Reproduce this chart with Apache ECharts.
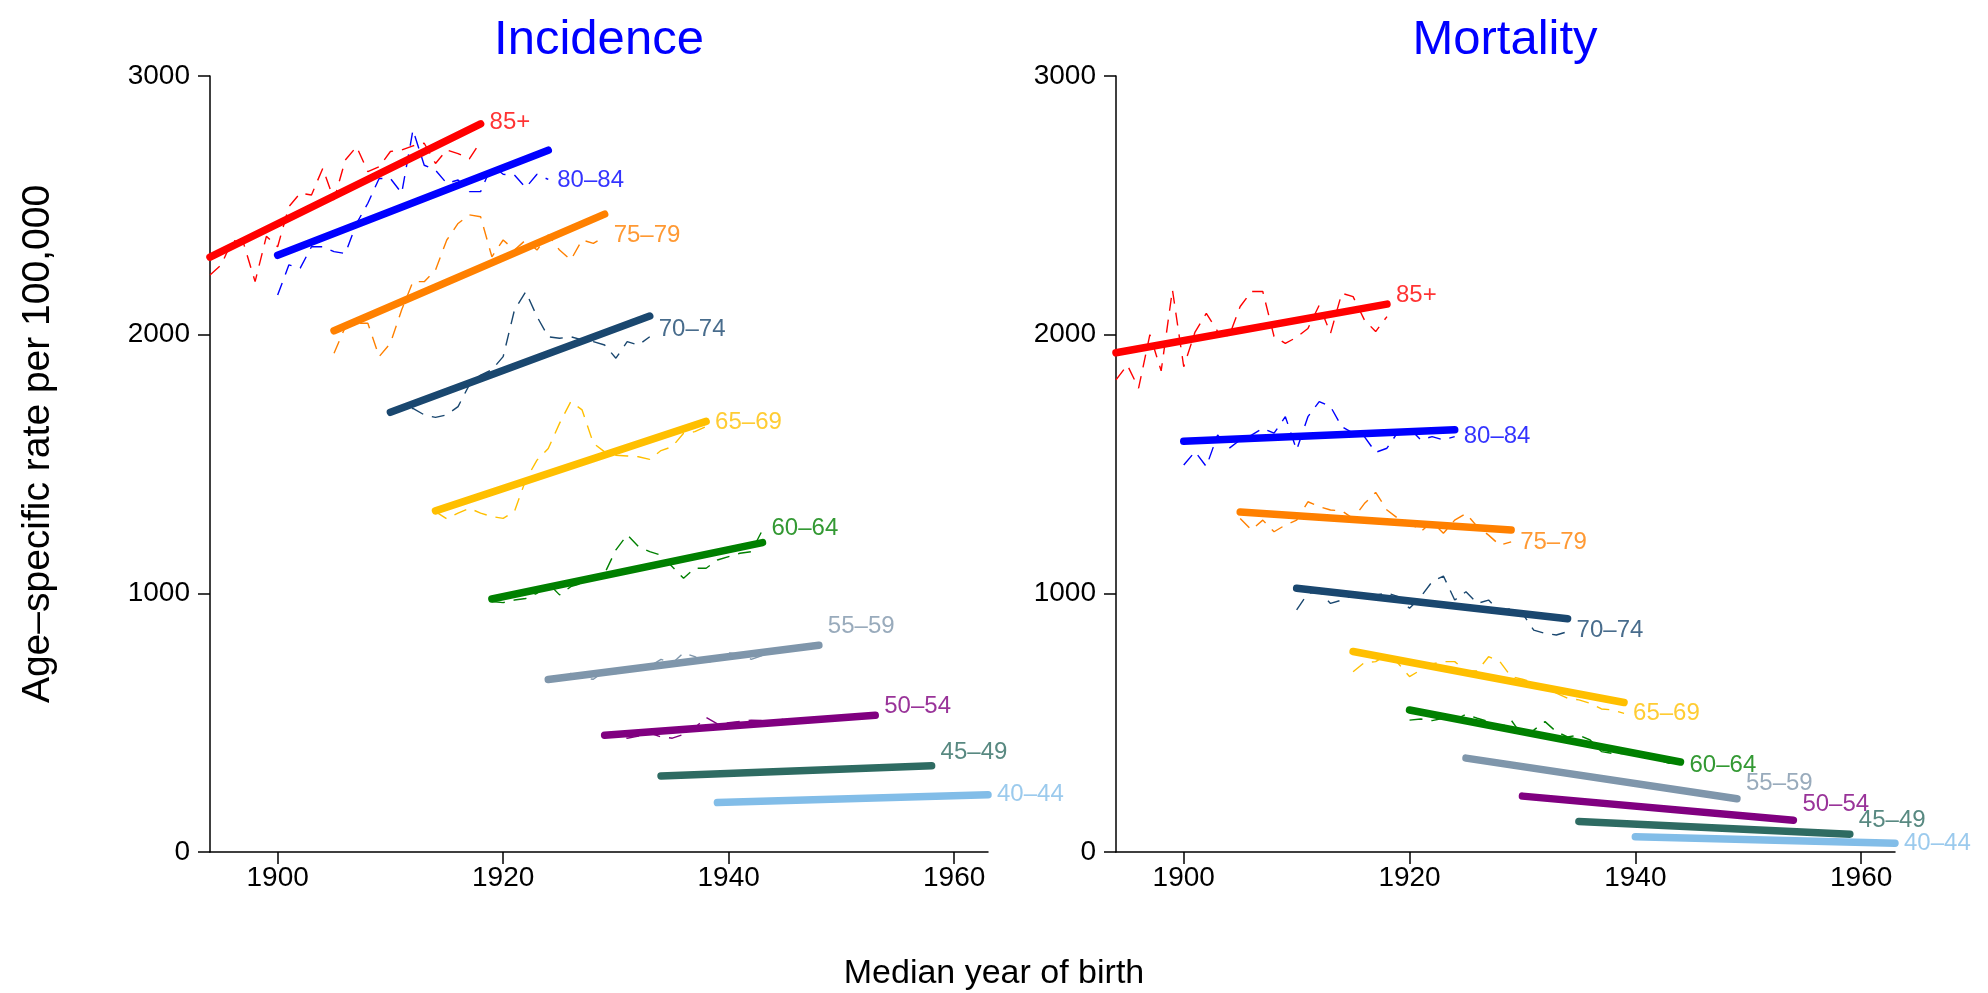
<!DOCTYPE html>
<html><head><meta charset="utf-8">
<script src="https://cdn.jsdelivr.net/npm/echarts@6/dist/echarts.min.js"></script>
<style>html,body{margin:0;padding:0;background:#fff}#c{width:1988px;height:993px}</style>
</head><body><div id="c"></div>
<script>
// ---------- data ----------
const groups = ['85+', '80–84', '75–79', '70–74', '65–69', '60–64', '55–59', '50–54', '45–49', '40–44'];
const xTicks = [1900, 1920, 1940, 1960];
const yTicks = [0, 1000, 2000, 3000];

// Incidence: fitted trend (start/end year and value)
const incTrendStart = [1894, 1900, 1905, 1910, 1914, 1919, 1924, 1929, 1934, 1939];
const incTrendEnd   = [1918, 1924, 1929, 1933, 1938, 1943, 1948, 1953, 1958, 1963];
const incTrendFrom  = [2300, 2307, 2015, 1700, 1319, 978, 667, 451, 294, 191];
const incTrendTo    = [2815, 2713, 2466, 2072, 1665, 1196, 799, 529, 333, 221];
const incLabelAt    = [2819, 2598, 2382, 2020, 1662, 1250, 873, 564, 387, 221];

// Incidence: observed yearly rates (first year = trend start year)
const inc85 = [2231, 2270, 2366, 2350, 2205, 2380, 2340, 2495, 2547, 2540, 2643, 2521, 2675, 2727, 2630, 2649, 2708, 2714, 2730, 2740, 2662, 2714, 2700, 2680, 2746];
const inc80 = [2153, 2270, 2257, 2340, 2340, 2321, 2314, 2430, 2508, 2604, 2604, 2547, 2791, 2655, 2636, 2585, 2598, 2553, 2553, 2655, 2620, 2617, 2568, 2620, 2600];
const inc75 = [1928, 2030, 2044, 2044, 1915, 1967, 2096, 2205, 2205, 2250, 2366, 2430, 2463, 2456, 2301, 2366, 2327, 2366, 2327, 2386, 2327, 2289, 2366, 2353, 2379];
const inc70 = [1696, 1710, 1715, 1690, 1680, 1690, 1722, 1806, 1844, 1864, 1915, 2095, 2166, 2070, 1992, 1986, 1992, 1980, 1973, 1960, 1909, 1973, 1960, 1992];
const inc65 = [1316, 1288, 1310, 1329, 1310, 1297, 1290, 1316, 1438, 1515, 1560, 1657, 1741, 1709, 1580, 1547, 1534, 1531, 1528, 1518, 1552, 1567, 1619, 1625, 1645];
const inc60 = [968, 964, 974, 980, 1000, 1039, 994, 1026, 1039, 1058, 1077, 1168, 1226, 1181, 1161, 1148, 1103, 1058, 1097, 1097, 1129, 1142, 1155, 1161, 1245];
const inc55 = [670, 680, 690, 672, 668, 700, 690, 705, 720, 718, 745, 730, 770, 755, 730, 745, 770, 765, 745, 760, 780, 775, 790, 810, 800];
const inc50 = [455, 450, 440, 448, 460, 445, 440, 455, 480, 520, 495, 500, 505, 510, 508, 505, 515, 512, 510, 518, 520, 518, 522, 525, 528];
const inc45 = [292, 296, 298, 300, 302, 305, 304, 306, 310, 309, 312, 313, 315, 318, 316, 320, 322, 321, 323, 326, 328, 327, 330, 332, 334];
const inc40 = [180, 192, 194, 195, 196, 198, 199, 200, 201, 203, 204, 205, 206, 208, 209, 210, 212, 213, 214, 215, 216, 218, 219, 220, 222];

// Mortality: fitted trend
const morTrendStart = [1894, 1900, 1905, 1910, 1915, 1920, 1925, 1930, 1935, 1940];
const morTrendEnd   = [1918, 1924, 1929, 1934, 1939, 1944, 1949, 1954, 1959, 1963];
const morTrendFrom  = [1930, 1588, 1314, 1020, 775, 549, 363, 216, 118, 59];
const morTrendTo    = [2118, 1632, 1245, 902, 578, 348, 206, 123, 69, 34];
const morLabelAt    = [2152, 1608, 1196, 858, 534, 333, 265, 186, 123, 34];

// Mortality: observed yearly rates
const mor85 = [1825, 1883, 1793, 2000, 1860, 2173, 1876, 2010, 2082, 2013, 1993, 2109, 2167, 2167, 1993, 1966, 1990, 2024, 2114, 2005, 2160, 2147, 2057, 2012, 2070];
const mor80 = [1496, 1548, 1490, 1612, 1560, 1593, 1612, 1638, 1619, 1683, 1554, 1683, 1741, 1722, 1644, 1619, 1606, 1545, 1561, 1625, 1638, 1593, 1606, 1593, 1606];
const mor75 = [1289, 1245, 1283, 1238, 1264, 1283, 1354, 1335, 1322, 1319, 1289, 1347, 1390, 1322, 1289, 1277, 1238, 1277, 1232, 1283, 1309, 1258, 1225, 1186, 1199];
const mor70 = [936, 1000, 1006, 961, 974, 993, 1000, 993, 1002, 987, 942, 987, 1045, 1067, 974, 1006, 961, 974, 929, 942, 923, 858, 845, 839, 852];
const mor65 = [697, 732, 736, 762, 729, 678, 704, 727, 736, 736, 700, 700, 755, 736, 678, 668, 655, 627, 614, 594, 588, 575, 553, 549, 536];
const mor60 = [510, 514, 508, 517, 510, 532, 517, 504, 478, 510, 449, 471, 504, 465, 445, 452, 433, 388, 381, 381, 375, 369, 356, 343, 343];
const mor55 = [360, 356, 351, 346, 338, 333, 326, 321, 316, 307, 301, 295, 290, 283, 276, 269, 263, 256, 249, 243, 236, 229, 222, 215, 208];
const mor50 = [214, 210, 206, 201, 198, 195, 191, 188, 184, 180, 176, 172, 168, 165, 161, 158, 154, 150, 146, 142, 138, 135, 131, 127, 124];
const mor45 = [115, 112, 110, 108, 106, 104, 102, 100, 98, 96, 94, 92, 90, 88, 86, 84, 82, 80, 78, 77, 75, 73, 72, 70, 69];
const mor40 = [60, 58, 57, 56, 55, 54, 53, 52, 51, 50, 49, 48, 47, 46, 45, 44, 43, 42, 41, 40, 38, 37, 36, 35];

// ---------- styles ----------
const colors = ['#FF0000', '#0000FF', '#FF8000', '#1A476F', '#FFBF00', '#008000', '#7F96AB', '#800080', '#2E6B62', '#82BDE8'];
const FONT = '"Liberation Sans", Arial, Helvetica, sans-serif';

const incObs = [inc85, inc80, inc75, inc70, inc65, inc60, inc55, inc50, inc45, inc40];
const morObs = [mor85, mor80, mor75, mor70, mor65, mor60, mor55, mor50, mor45, mor40];

function panelSeries(idx, tStart, tEnd, tFrom, tTo, obs, labAt) {
  const out = [];
  groups.forEach((g, i) => {
    out.push({
      type: 'line', xAxisIndex: idx, yAxisIndex: idx, symbol: 'none', silent: true, z: 2,
      lineStyle: { color: colors[i], width: 1.4, type: [13, 9] },
      data: obs[i].map((v, k) => [tStart[i] + k, v])
    });
    out.push({
      type: 'line', xAxisIndex: idx, yAxisIndex: idx, symbol: 'none', silent: true, z: 3,
      lineStyle: { color: colors[i], width: 7.5, cap: 'round' },
      data: [[tStart[i], tFrom[i]], [tEnd[i], tTo[i]]]
    });
    out.push({
      type: 'scatter', xAxisIndex: idx, yAxisIndex: idx, symbolSize: 0, silent: true, clip: false, z: 4,
      data: [[tEnd[i], labAt[i]]],
      label: { show: true, position: 'right', distance: 9, formatter: g, color: colors[i], fontSize: 24, fontFamily: FONT }
    });
  });
  return out;
}

const plain = v => String(v);

function xAxis(idx) {
  return {
    type: 'value', gridIndex: idx, min: 1894, max: 1963,
    axisLine: { show: true, onZero: false, lineStyle: { color: '#000', width: 1.5 } },
    axisTick: { show: true, length: 12, customValues: xTicks, lineStyle: { color: '#000', width: 1.5 } },
    axisLabel: { customValues: xTicks, formatter: plain, color: '#000', fontSize: 28, fontFamily: FONT, margin: 12 },
    splitLine: { show: false }
  };
}
function yAxis(idx) {
  return {
    type: 'value', gridIndex: idx, min: 0, max: 3000, interval: 1000,
    axisLine: { show: true, lineStyle: { color: '#000', width: 1.5 } },
    axisTick: { show: true, length: 12, lineStyle: { color: '#000', width: 1.5 } },
    axisLabel: { formatter: plain, color: '#000', fontSize: 28, fontFamily: FONT, margin: 20 },
    splitLine: { show: false }
  };
}

const option = {
  backgroundColor: '#fff',
  animation: false,
  grid: [
    { left: 210, top: 76, width: 778, height: 776 },
    { left: 1116, top: 76, width: 779, height: 776 }
  ],
  xAxis: [xAxis(0), xAxis(1)],
  yAxis: [yAxis(0), yAxis(1)],
  graphic: [
    { type: 'text', x: 599, y: 40, style: { text: 'Incidence', fill: '#0000FF', font: '49px ' + FONT, align: 'center', verticalAlign: 'middle' } },
    { type: 'text', x: 1505, y: 40, style: { text: 'Mortality', fill: '#0000FF', font: '49px ' + FONT, align: 'center', verticalAlign: 'middle' } },
    { type: 'text', x: 38, y: 444, rotation: Math.PI / 2, style: { text: 'Age–specific rate per 100,000', fill: '#000', font: '39px ' + FONT, align: 'center', verticalAlign: 'middle' } },
    { type: 'text', x: 994, y: 974, style: { text: 'Median year of birth', fill: '#000', font: '34px ' + FONT, align: 'center', verticalAlign: 'middle' } }
  ],
  series: [].concat(
    panelSeries(0, incTrendStart, incTrendEnd, incTrendFrom, incTrendTo, incObs, incLabelAt),
    panelSeries(1, morTrendStart, morTrendEnd, morTrendFrom, morTrendTo, morObs, morLabelAt)
  )
};

const chart = echarts.init(document.getElementById('c'), null, { renderer: 'canvas' });
chart.setOption(option);
</script>
</body></html>
